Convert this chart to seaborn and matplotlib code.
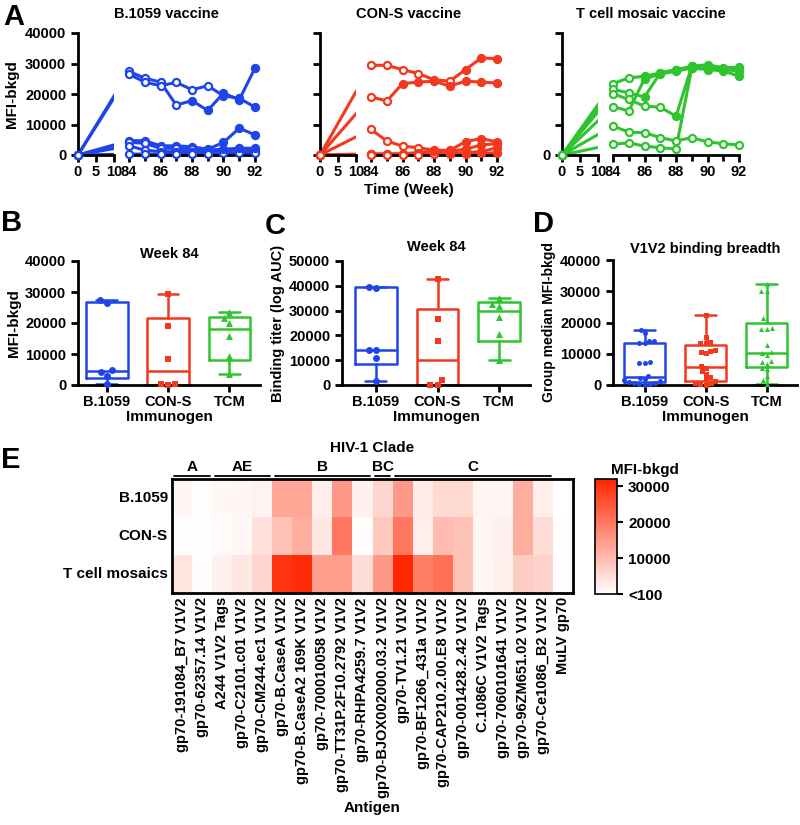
import numpy as np
import pandas as pd
import matplotlib
matplotlib.use("Agg")
import matplotlib.pyplot as plt
import seaborn as sns
from matplotlib.colors import LinearSegmentedColormap

# ---------------- data ----------------
weeks = [0, 84, 85, 86, 87, 88, 89, 90, 91, 92]

b1059_mfi = [
    [0, 27400, 25200, 23900, 16400, 17800, 14600, 20300, 18100, 28500],
    [0, 26500, 23900, 22700, 23800, 21400, 22700, 19400, 18600, 15700],
    [0, 4700, 4700, 3000, 3000, 2700, 1900, 4100, 8800, 6600],
    [0, 4200, 3800, 2200, 2200, 1900, 1600, 1900, 2200, 2200],
    [0, 3000, 1600, 1100, 1100, 1100, 1100, 1400, 1600, 1400],
    [0, 300, 300, 300, 300, 300, 300, 500, 600, 800],
]
cons_mfi = [
    [0, 29400, 29400, 28000, 26700, 24700, 24200, 28000, 31800, 31600],
    [0, 19100, 17700, 23400, 23900, 24200, 22600, 24200, 23900, 23600],
    [0, 8400, 4600, 2900, 2400, 1600, 1500, 4400, 5400, 4300],
    [0, 400, 400, 400, 800, 1300, 1300, 1900, 3300, 3700],
    [0, 200, 200, 300, 400, 500, 600, 800, 1100, 2400],
    [0, 0, 0, 100, 100, 200, 200, 300, 500, 800],
]
tcm_mfi = [
    [0, 23400, 25300, 25800, 26900, 28000, 29100, 29600, 28600, 28800],
    [0, 21500, 20400, 19000, 26900, 28000, 28600, 29100, 28000, 28000],
    [0, 20100, 18200, 16000, 15700, 12700, 29100, 28600, 28200, 27400],
    [0, 15900, 14400, 25000, 26500, 27500, 28500, 28000, 27600, 25800],
    [0, 9500, 7500, 7300, 5700, 4600, 5700, 4300, 3700, 3300],
    [0, 3500, 4000, 2900, 2400, 2000, 28500, 29000, 28200, 27800],
]

groups = ["B.1059", "CON-S", "TCM"]

auc_b1059 = [39700, 39200, 14000, 14000, 11000, 1500]
auc_cons = [42600, 26800, 17800, 2200, 200, 0]
auc_tcm = [35000, 32700, 32000, 27300, 20500, 9900]

breadth_b1059 = [17500, 16500, 14100, 14100, 13500, 13300, 7300, 7100, 7000, 3000,
                 2200, 1800, 1500, 1200, 1000, 800, 600, 400, 200, 100]
breadth_cons = [22400, 15500, 13900, 13400, 13300, 11200, 10900, 10700, 10200, 6200,
                5600, 4600, 3500, 2500, 1800, 1200, 800, 500, 300, 100]
breadth_tcm = [32400, 30200, 30000, 21600, 20500, 18200, 17800, 17800, 12800, 10500,
               10100, 9500, 7600, 7300, 6700, 5500, 5000, 3000, 1500, 300]

antigens = ["gp70-191084_B7 V1V2", "gp70-62357.14 V1V2", "A244 V1V2 Tags",
            "gp70-C2101.c01 V1V2", "gp70-CM244.ec1 V1V2", "gp70-B.CaseA V1V2",
            "gp70-B.CaseA2 169K V1V2", "gp70-700010058 V1V2", "gp70-TT31P.2F10.2792 V1V2",
            "gp70-RHPA4259.7 V1V2", "gp70-BJOX002000.03.2 V1V2", "gp70-TV1.21 V1V2",
            "gp70-BF1266_431a V1V2", "gp70-CAP210.2.00.E8 V1V2", "gp70-001428.2.42 V1V2",
            "C.1086C V1V2 Tags", "gp70-7060101641 V1V2", "gp70-96ZM651.02 V1V2",
            "gp70-Ce1086_B2 V1V2", "MuLV gp70"]
heat_rows = ["B.1059", "CON-S", "T cell mosaics"]
heat_b1059 = [1500, 300, 1000, 1200, 1800, 13000, 13000, 2500, 15000, 2000,
              6000, 15000, 3000, 5500, 5500, 1500, 1500, 12000, 2500, 100]
heat_cons = [300, 200, 800, 1000, 4500, 9000, 12000, 3500, 20000, 500,
             8000, 20000, 2500, 10000, 9000, 1500, 2000, 12000, 5000, 200]
heat_tcm = [4000, 500, 2000, 3500, 6000, 30000, 31000, 14000, 14000, 5000,
            15000, 32000, 19000, 21000, 9000, 1500, 2500, 7500, 6500, 300]
clade_names = ["A", "AE", "B", "BC", "C"]
clade_sizes = [2, 3, 5, 1, 8]

# ---------------- style ----------------
sns.set_theme(style="ticks")
plt.rcParams["font.family"] = ["Liberation Sans", "DejaVu Sans"]
plt.rcParams.update({
    "font.weight": "bold", "axes.labelweight": "bold", "axes.titleweight": "bold",
    "text.color": "black", "axes.labelcolor": "black", "xtick.color": "black",
    "ytick.color": "black", "axes.edgecolor": "black", "axes.linewidth": 2,
    "xtick.major.width": 2, "ytick.major.width": 2, "xtick.minor.width": 2,
    "xtick.major.size": 5, "ytick.major.size": 5, "xtick.minor.size": 4,
    "xtick.labelsize": 10.5, "ytick.labelsize": 10.5, "axes.labelsize": 11,
    "axes.titlesize": 10.5,
})

BLUE, RED, GREEN = "#1F45E8", "#F2391E", "#2EC42E"
group_colors = [BLUE, RED, GREEN]
group_markers = ["o", "s", "^"]

W, H = 800, 825
fig = plt.figure(figsize=(W / 100, H / 100), dpi=100)


def add_ax(x0, y0, x1, y1):
    return fig.add_axes([x0 / W, 1 - y1 / H, (x1 - x0) / W, (y1 - y0) / H])


# broken time axis: weeks 0-10 compressed, gap, weeks 84-92 expanded
def fwd(w):
    w = np.asarray(w, dtype=float)
    return np.where(w <= 10, w * 3.6,
                    np.where(w >= 84, 51 + (w - 84) * 15.75, 36 + (w - 10) * (15 / 74)))


def inv(u):
    u = np.asarray(u, dtype=float)
    return np.where(u <= 36, u / 3.6,
                    np.where(u >= 51, 84 + (u - 51) / 15.75, 10 + (u - 36) * 74 / 15))


# ---------------- panel A ----------------
fill_from = [[88, 90, 90, 90, None, None],
             [90, 86, 90, 88, 89, 90],
             [86, 86, 88, 86, None, 89]]
panelA = [("B.1059 vaccine", b1059_mfi, BLUE, 78),
          ("CON-S vaccine", cons_mfi, RED, 320),
          ("T cell mosaic vaccine", tcm_mfi, GREEN, 562)]

for i, (title, mfi, col, x0) in enumerate(panelA):
    ax = add_ax(x0, 33, x0 + 177, 155)
    ax.set_xscale("function", functions=(fwd, inv))
    rows = []
    for k, series in enumerate(mfi):
        for w, v in zip(weeks, series):
            ff = fill_from[i][k]
            rows.append(dict(animal=k, week=w, mfi=v,
                             filled=(ff is not None and w >= ff)))
    df = pd.DataFrame(rows)
    sns.lineplot(data=df, x="week", y="mfi", units="animal", estimator=None,
                 color=col, lw=2.2, ax=ax, legend=False, zorder=2)
    ax.axvspan(10.0, 83.7, color="white", lw=0, zorder=2.3)
    sns.scatterplot(data=df[~df.filled], x="week", y="mfi", color=col, edgecolor=col,
                    s=26, linewidth=1.6, ax=ax, zorder=3, clip_on=False, legend=False)
    ax.collections[-1].set_facecolor("white")
    sns.scatterplot(data=df[df.filled], x="week", y="mfi", color=col, edgecolor=col,
                    s=26, linewidth=1.6, ax=ax, zorder=3, clip_on=False, legend=False)
    ax.set_xlim(0, 92)
    ax.set_ylim(0, 40000)
    ax.set_xticks([0, 5, 10, 84, 86, 88, 90, 92])
    ax.set_xticks([85, 87, 89, 91], minor=True)
    ax.set_yticks([0, 10000, 20000, 30000, 40000])
    if i == 0:
        ax.set_yticklabels(["0", "10000", "20000", "30000", "40000"])
        ax.set_ylabel("MFI-bkgd", labelpad=4)
    elif i == 1:
        ax.set_yticklabels([])
        ax.set_ylabel("")
    else:
        ax.set_yticklabels(["0", "", "", "", ""])
        ax.set_ylabel("")
    ax.set_xlabel("Time (Week)" if i == 1 else "", labelpad=3)
    ax.set_title(title, pad=11)
    ax.spines["top"].set_visible(False)
    ax.spines["right"].set_visible(False)
    ax.spines["bottom"].set_bounds(84, 92)
    ax.plot([0, 10], [0, 0], color="black", lw=2, transform=ax.get_xaxis_transform(),
            clip_on=False, zorder=2.6, solid_capstyle="projecting")
    ax.tick_params(axis="x", pad=2)

# ---------------- panels B, C, D ----------------
w84_b1059 = [s[weeks.index(84)] for s in b1059_mfi]
w84_cons = [s[weeks.index(84)] for s in cons_mfi]
w84_tcm = [s[weeks.index(84)] for s in tcm_mfi]


def box_panel(ax, vals_by_group, ymax, step, title, ylabel, xleft, pad, msize,
              ylabel_size=11):
    for g, vals, col, mk in zip(groups, vals_by_group, group_colors, group_markers):
        sub = pd.DataFrame({"group": [g] * len(vals), "value": vals})
        sns.swarmplot(data=sub, x="group", y="value", order=groups, color=col,
                      marker=mk, size=msize, ax=ax, zorder=3, clip_on=False,
                      edgecolor=col, linewidth=0)
    stats = []
    for g, vals in zip(groups, vals_by_group):
        v = np.asarray(vals, dtype=float)
        q1, med, q3 = np.percentile(v, [25, 50, 75], method="weibull")
        stats.append(dict(label=g, med=med, q1=q1, q3=q3,
                          whislo=v.min(), whishi=v.max(), fliers=[]))
    art = ax.bxp(stats, positions=[0, 1, 2], widths=0.68, capwidths=0.34,
                 showfliers=False, manage_ticks=False)
    for k, col in enumerate(group_colors):
        art["boxes"][k].set(color=col, lw=1.8)
        art["medians"][k].set(color=col, lw=1.8)
        for a in art["whiskers"][2 * k:2 * k + 2] + art["caps"][2 * k:2 * k + 2]:
            a.set(color=col, lw=1.8)
    ax.set_xlim(xleft, 2.5)
    ax.set_ylim(0, ymax)
    ax.set_yticks(np.arange(0, ymax + 1, step))
    ax.set_xticks([0, 1, 2])
    ax.set_xticklabels(groups)
    ax.set_xlabel("Immunogen", labelpad=1)
    ax.set_ylabel(ylabel, labelpad=3, fontsize=ylabel_size)
    ax.set_title(title, pad=pad)
    ax.spines["top"].set_visible(False)
    ax.spines["right"].set_visible(False)
    ax.tick_params(axis="x", pad=2)


axB = add_ax(78, 261, 260, 385)
box_panel(axB, [w84_b1059, w84_cons, w84_tcm], 40000, 10000, "Week 84",
          "MFI-bkgd", -0.47, 1, 5)
axC = add_ax(342, 261, 530, 385)
box_panel(axC, [auc_b1059, auc_cons, auc_tcm], 50000, 10000, "Week 84",
          "Binding titer (log AUC)", -0.55, 7, 5, ylabel_size=10.5)
axD = add_ax(613, 260, 797, 385)
box_panel(axD, [breadth_b1059, breadth_cons, breadth_tcm], 40000, 10000,
          "V1V2 binding breadth", "Group median MFI-bkgd", -0.52, 5, 3.6,
          ylabel_size=10)

# ---------------- panel E heatmap ----------------
hax = add_ax(172, 479, 573, 593)
cax = add_ax(595, 479, 617, 594)
heat_df = pd.DataFrame([heat_b1059, heat_cons, heat_tcm], index=heat_rows, columns=antigens)
cmap = LinearSegmentedColormap.from_list("wr", ["#FFFFFF", "#FF2600"])
sns.heatmap(heat_df, cmap=cmap, vmin=0, vmax=32000, ax=hax, cbar_ax=cax,
            xticklabels=antigens, yticklabels=heat_rows,
            cbar_kws={"ticks": [0, 10000, 20000, 30000]})
hax.tick_params(length=0, pad=3)
hax.set_xticklabels(antigens, rotation=90, fontsize=10.5, fontweight="bold")
hax.set_yticklabels(heat_rows, rotation=0, fontsize=11, fontweight="bold")
hax.set_xlabel("Antigen", fontsize=11, labelpad=2)
hax.set_ylabel("")
for sp in hax.spines.values():
    sp.set_visible(True)
    sp.set_linewidth(2)
    sp.set_color("black")
cax.set_yticklabels(["<100", "10000", "20000", "30000"], fontsize=11, fontweight="bold")
cax.tick_params(length=4, width=1.5, pad=4)
cbar = hax.collections[0].colorbar
cbar.outline.set_visible(True)
cbar.outline.set_linewidth(1.2)
cbar.outline.set_edgecolor("black")
cax.text(2.27, 1.02, "MFI-bkgd", transform=cax.transAxes, ha="center", va="bottom",
         fontsize=11, fontweight="bold")

trans = hax.get_xaxis_transform()
start = 0
for name, n in zip(clade_names, clade_sizes):
    x0, x1 = start, start + n
    hax.plot([x0 + 0.12, x1 - 0.12], [1.03, 1.03], color="black", lw=1.3,
             transform=trans, clip_on=False)
    hax.text((x0 + x1) / 2, 1.045, name, transform=trans, ha="center", va="bottom",
             fontsize=11, fontweight="bold")
    start = x1
hax.text(len(antigens) / 2, 1.21, "HIV-1 Clade", transform=trans, ha="center",
         va="bottom", fontsize=11, fontweight="bold")

# ---------------- panel letters ----------------
for letter, (px, py) in {"A": (3, 17), "B": (1, 223), "C": (265, 226),
                         "D": (533, 224), "E": (1, 460)}.items():
    fig.text(px / W, 1 - py / H, letter, fontsize=21, fontweight="bold",
             ha="left", va="center")

fig.savefig("out.png", dpi=100)
